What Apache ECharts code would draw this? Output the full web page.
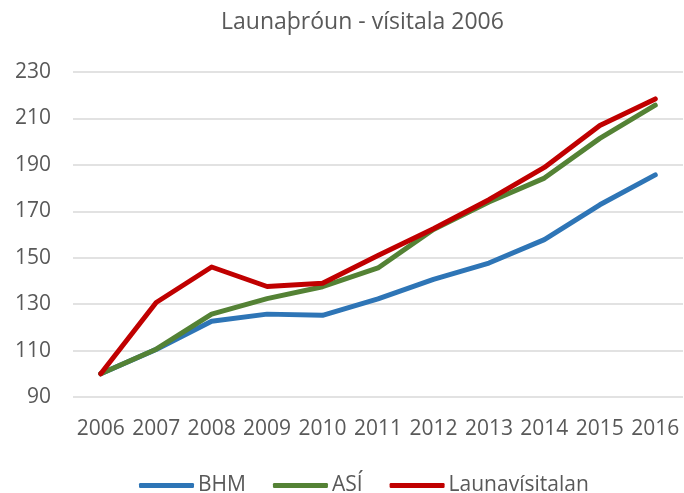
<!DOCTYPE html>
<html>
<head>
<meta charset="utf-8">
<script src="https://cdn.jsdelivr.net/npm/echarts@6/dist/echarts.min.js"></script>
<style>
  html, body { margin: 0; padding: 0; background: #fff; }
  #chart { width: 684px; height: 493px; }
</style>
</head>
<body>
<div id="chart"></div>
<script>
var years = ['2006','2007','2008','2009','2010','2011','2012','2013','2014','2015','2016'];
var bhm = [100, 110.5, 122.6, 125.7, 125.2, 132.3, 140.7, 147.7, 157.8, 172.8, 185.7];
var asi = [100, 110.6, 125.7, 132.4, 137.5, 145.6, 162.2, 174.0, 184.3, 201.4, 215.7];
var launavisitala = [100, 130.7, 146.0, 137.6, 139.0, 151.0, 162.5, 175.0, 188.9, 207.0, 218.4];
var seriesNames = ['BHM', 'ASÍ', 'Launavísitalan'];

var font = '"Open Sans", "Noto Sans", sans-serif';
var gray = '#595959';

function lineSeries(name, data, color) {
    return {
        name: name,
        type: 'line',
        data: data,
        symbol: 'none',
        smooth: false,
        lineStyle: { color: color, width: 5, cap: 'round', join: 'round' },
        itemStyle: { color: color }
    };
}

var chart = echarts.init(document.getElementById('chart'));
chart.setOption({
    animation: false,
    title: {
        text: 'Launaþróun - vísitala 2006',
        left: 216,
        top: 6,
        textStyle: { fontFamily: font, fontSize: 23, fontWeight: 'normal', color: gray }
    },
    legend: {
        data: seriesNames,
        top: 470,
        left: 134,
        icon: 'roundRect',
        itemWidth: 55,
        itemHeight: 5,
        itemGap: 27,
        textStyle: { fontFamily: font, fontSize: 21, color: gray, padding: [0, 0, 0, -1] }
    },
    grid: { left: 73, right: 1, top: 72, bottom: 96 },
    xAxis: {
        type: 'category',
        data: years,
        boundaryGap: true,
        axisLine: { show: false },
        axisTick: { show: false },
        axisLabel: { fontFamily: font, fontSize: 21, color: gray, margin: 22, interval: 0 }
    },
    yAxis: {
        type: 'value',
        min: 90,
        max: 230,
        interval: 20,
        axisLine: { show: false },
        axisTick: { show: false },
        splitLine: { lineStyle: { color: '#d9d9d9', width: 1.5 } },
        axisLabel: { fontFamily: font, fontSize: 21, color: gray, margin: 22 }
    },
    series: [
        lineSeries(seriesNames[0], bhm, '#2E75B6'),
        lineSeries(seriesNames[1], asi, '#548235'),
        lineSeries(seriesNames[2], launavisitala, '#C00000')
    ]
});
</script>
</body>
</html>
